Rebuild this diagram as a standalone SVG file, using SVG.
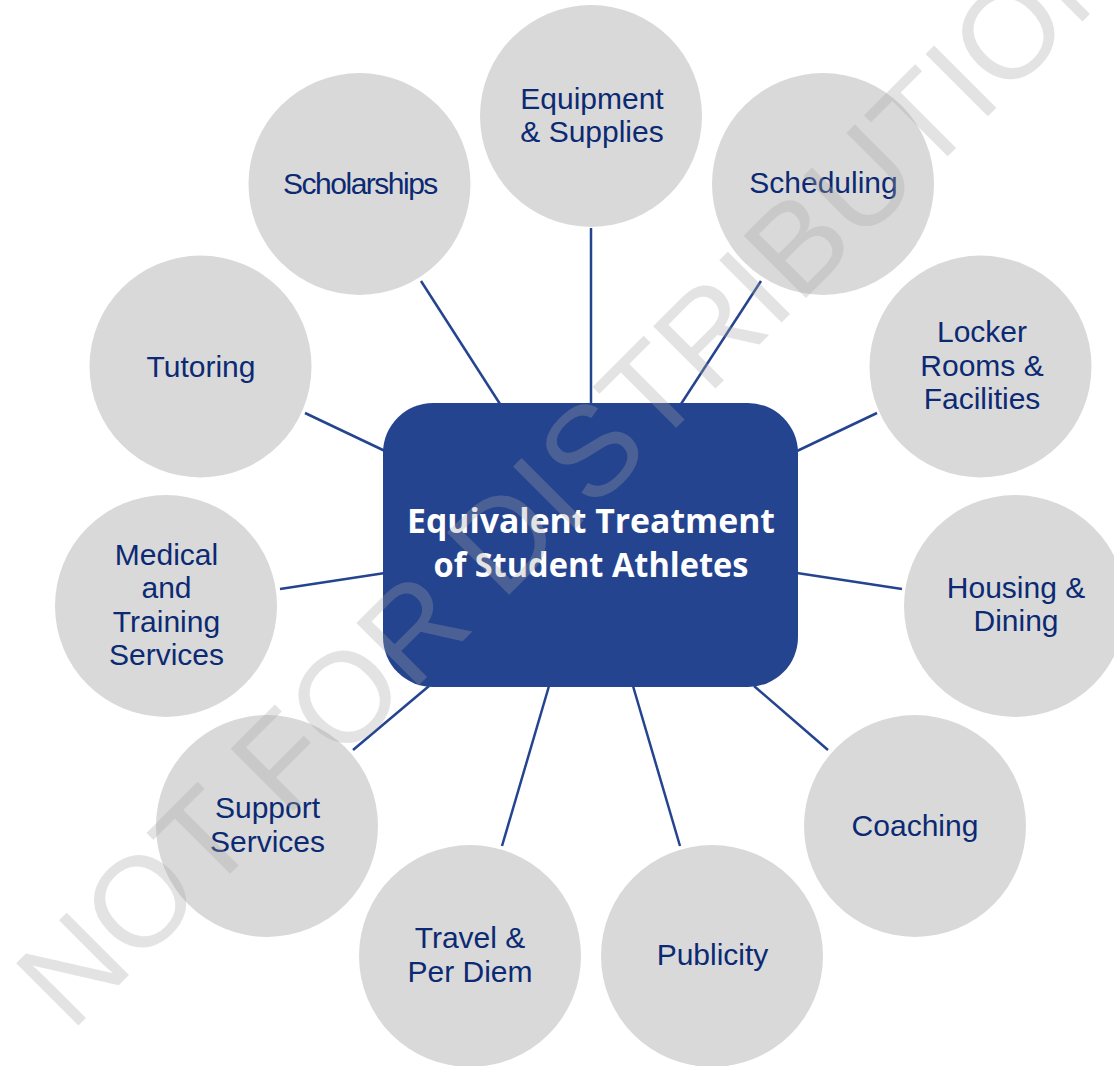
<svg xmlns="http://www.w3.org/2000/svg" width="1114" height="1066" viewBox="0 0 1114 1066">
<style>
.c{fill:#d9d9d9}
.t{font-family:"Liberation Sans",Arial,sans-serif;font-size:30px;fill:#0b2a73;text-anchor:middle}
.h{font-family:"Open Sans","Noto Sans",sans-serif;font-weight:bold;font-size:34px;fill:#ffffff;text-anchor:middle}
.l{stroke:#24448f;stroke-width:2.5;fill:none}
.w{font-family:"Liberation Sans",Arial,sans-serif;font-size:128px;fill:#a6a6a6;opacity:0.3}
</style>
<rect width="1114" height="1066" fill="#ffffff"/>
<g id="connectors">
<line class="l" x1="421" y1="281" x2="500" y2="404"/>
<line class="l" x1="591" y1="228" x2="591" y2="404"/>
<line class="l" x1="761" y1="281" x2="681" y2="404"/>
<line class="l" x1="305" y1="413" x2="385" y2="451"/>
<line class="l" x1="877" y1="413" x2="797" y2="451"/>
<line class="l" x1="280" y1="589" x2="385" y2="573"/>
<line class="l" x1="902" y1="589" x2="797" y2="573"/>
<line class="l" x1="353" y1="750" x2="429" y2="686"/>
<line class="l" x1="502" y1="846" x2="549" y2="686"/>
<line class="l" x1="680" y1="846" x2="633" y2="686"/>
<line class="l" x1="828" y1="750" x2="754" y2="686"/>
</g>
<g id="center">
<rect x="383" y="403" width="415" height="284" rx="50" ry="50" fill="#24448f"/>
<text class="h" x="591" y="533" textLength="368" lengthAdjust="spacingAndGlyphs">Equivalent Treatment</text>
<text class="h" x="591" y="577" textLength="315" lengthAdjust="spacingAndGlyphs">of Student Athletes</text>
</g>
<g id="equipment"><circle class="c" cx="591" cy="116" r="111"/><text class="t" x="592" y="109">Equipment</text><text class="t" x="592" y="142">&amp; Supplies</text></g>
<g id="scholarships"><circle class="c" cx="359.5" cy="184" r="111"/><text class="t" x="360" y="194" letter-spacing="-1.5">Scholarships</text></g>
<g id="scheduling"><circle class="c" cx="823" cy="184" r="111"/><text class="t" x="823.5" y="193">Scheduling</text></g>
<g id="tutoring"><circle class="c" cx="200.5" cy="366.5" r="111"/><text class="t" x="201" y="377">Tutoring</text></g>
<g id="locker"><circle class="c" cx="980.5" cy="366.5" r="111"/><text class="t" x="982" y="342">Locker</text><text class="t" x="982" y="376">Rooms &amp;</text><text class="t" x="982" y="409">Facilities</text></g>
<g id="medical"><circle class="c" cx="166" cy="606" r="111"/><text class="t" x="166.5" y="565">Medical</text><text class="t" x="166.5" y="598">and</text><text class="t" x="166.5" y="632">Training</text><text class="t" x="166.5" y="665">Services</text></g>
<g id="housing"><circle class="c" cx="1015" cy="606" r="111"/><text class="t" x="1016" y="598">Housing &amp;</text><text class="t" x="1016" y="631">Dining</text></g>
<g id="support"><circle class="c" cx="267" cy="826" r="111"/><text class="t" x="267.5" y="818">Support</text><text class="t" x="267.5" y="852">Services</text></g>
<g id="coaching"><circle class="c" cx="915" cy="826" r="111"/><text class="t" x="915" y="836">Coaching</text></g>
<g id="travel"><circle class="c" cx="470" cy="956" r="111"/><text class="t" x="470" y="948">Travel &amp;</text><text class="t" x="470" y="982">Per Diem</text></g>
<g id="publicity"><circle class="c" cx="712" cy="956" r="111"/><text class="t" x="712.5" y="965">Publicity</text></g>
<text class="w" transform="translate(71,1033) rotate(-45)">NOT FOR DISTRIBUTION</text>
</svg>
